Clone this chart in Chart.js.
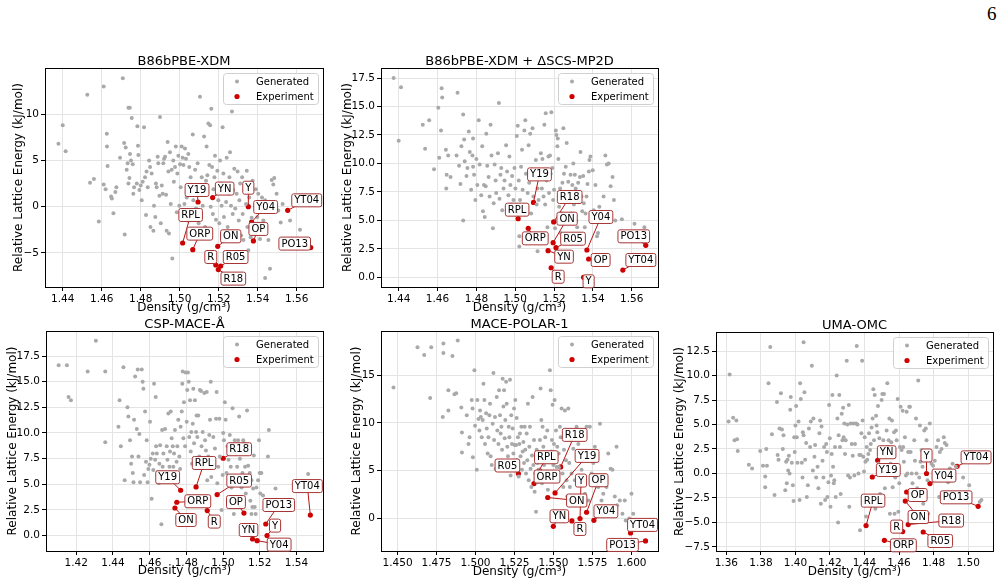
<!DOCTYPE html>
<html>
<head>
<meta charset="utf-8">
<script src="https://cdn.jsdelivr.net/npm/chart.js@4.4.0/dist/chart.umd.min.js"></script>
<style>
  body { margin: 0; background: #fff; width: 1002px; height: 584px; overflow: hidden; position: relative; }
  canvas { position: absolute; }
  #pg { position: absolute; left: 987px; top: 4px; font: 19px "Liberation Serif"; line-height: 19px; color: #000; }
</style>
</head>
<body>
<div id="pg">6</div>
<script>
// experimental forms, same order in every panel
var expNames = ['Y', 'YN', 'Y04', 'Y19', 'YT04', 'R', 'R05', 'R18', 'RPL', 'ORP', 'ON', 'OP', 'PO13'];

// B86bPBE-XDM geometries (densities shared by the first two panels)
var expDensXDM = [1.5352, 1.5169, 1.5369, 1.5094, 1.5554, 1.5185, 1.5210, 1.5198, 1.5015, 1.5067, 1.5195, 1.5378, 1.5672];
var expE_XDM   = [0.0, 0.99, -1.65, 0.51, -0.39, -6.3, -6.41, -6.8, -3.92, -4.64, -4.28, -3.7, -4.42];
var expE_MP2D  = [0.0, 2.34, 2.40, 6.58, 0.64, 0.84, 2.6, 4.86, 5.15, 4.30, 3.04, 1.61, 2.81];

var expDensCSP = [1.524, 1.5161, 1.5186, 1.4769, 1.5476, 1.4914, 1.4968, 1.5001, 1.4853, 1.4748, 1.4738, 1.5114, 1.5233];
var expE_CSP   = [0.0, -0.33, -0.49, 4.42, 2.0, 2.44, 4.0, 7.54, 4.74, 3.25, 2.69, 2.2, 1.13];

var expDensPOL = [1.567, 1.5499, 1.5759, 1.5510, 1.5994, 1.5618, 1.5275, 1.5546, 1.5409, 1.5375, 1.5463, 1.5712, 1.609];
var expE_POL   = [0.0, -0.81, -0.18, 2.68, -1.5, -0.25, 4.71, 5.40, 5.05, 3.66, 2.2, 0.66, -2.34];

var expDensUMA = [1.4759, 1.4476, 1.4779, 1.4445, 1.4936, 1.4621, 1.474, 1.4653, 1.4409, 1.4515, 1.4636, 1.4644, 1.5058];
var expE_UMA   = [0.0, 1.35, -1.03, -0.36, 0.73, -5.93, -5.97, -5.21, -5.32, -6.82, -2.81, -1.89, -3.35];

// generated structures [density, relative energy]
var genXDM = [[1.4378,6.8],[1.44,8.8],[1.4415,6.0],[1.4526,12.1],[1.454,2.6],[1.456,3.0],[1.4585,-1.6],[1.461,13.0],[1.461,2.4],[1.462,1.9],[1.4626,7.9],[1.463,4.4],[1.4627,6.5],[1.4648,1.1],[1.4652,0.9],[1.466,-0.7],[1.467,1.6],[1.4675,2.1],[1.4694,5.3],[1.4708,13.9],[1.4715,6.9],[1.4718,-3.0],[1.4723,6.4],[1.4728,4.0],[1.4733,4.7],[1.4737,10.7],[1.4744,10.7],[1.4742,3.1],[1.4737,2.5],[1.4745,5.7],[1.475,5.0],[1.4754,9.6],[1.4759,4.6],[1.4762,1.4],[1.4766,2.1],[1.478,2.5],[1.4783,8.7],[1.4786,6.6],[1.4788,5.6],[1.4793,1.8],[1.48,2.3],[1.4805,0.7],[1.481,2.7],[1.4817,8.6],[1.4822,3.2],[1.4827,-0.9],[1.483,3.8],[1.4836,2.1],[1.4843,5.0],[1.4848,4.3],[1.485,-2.2],[1.4856,3.6],[1.4865,-2.6],[1.4868,0.1],[1.4875,-1.1],[1.4878,2.5],[1.4882,2.1],[1.4887,5.4],[1.489,4.7],[1.4896,1.2],[1.4899,9.7],[1.4903,-1.8],[1.4908,2.3],[1.4913,1.4],[1.4916,4.7],[1.492,5.2],[1.4925,5.4],[1.493,1.3],[1.4933,-2.6],[1.4938,7.0],[1.4942,3.8],[1.4945,-2.9],[1.495,5.9],[1.4954,0.3],[1.4959,4.0],[1.4962,-5.6],[1.4967,5.0],[1.497,2.7],[1.4976,4.3],[1.498,6.5],[1.4985,-0.6],[1.4988,3.6],[1.4993,5.5],[1.4998,0.1],[1.5002,4.6],[1.5005,2.1],[1.501,6.5],[1.5015,5.3],[1.5019,4.5],[1.5024,0.3],[1.5027,6.3],[1.5032,5.2],[1.5036,1.0],[1.5039,-1.5],[1.5044,5.7],[1.5049,4.3],[1.5053,1.4],[1.5056,3.2],[1.5062,-1.1],[1.5067,7.8],[1.507,0.7],[1.5079,4.0],[1.5084,-0.2],[1.5087,2.1],[1.5092,4.7],[1.5097,-1.8],[1.5104,11.9],[1.5109,1.4],[1.5113,3.2],[1.5118,0.1],[1.5125,7.6],[1.513,-2.2],[1.5135,2.8],[1.5138,6.5],[1.5142,3.4],[1.5147,9.0],[1.5152,4.5],[1.5156,8.8],[1.5159,0.0],[1.5162,10.6],[1.5166,4.3],[1.517,-0.8],[1.5173,1.9],[1.5178,3.2],[1.5181,5.5],[1.5186,-1.4],[1.519,1.4],[1.5193,3.9],[1.5198,0.7],[1.5203,-1.8],[1.5207,5.0],[1.5212,2.5],[1.5215,0.1],[1.522,8.6],[1.5224,3.6],[1.5227,-1.1],[1.5232,2.1],[1.5238,0.5],[1.5241,5.3],[1.5246,-2.2],[1.5251,1.4],[1.5255,3.2],[1.5258,5.9],[1.5263,0.1],[1.5268,10.3],[1.5272,-0.8],[1.5275,1.8],[1.528,4.1],[1.5285,-0.2],[1.5289,-2.8],[1.5292,1.4],[1.5297,3.8],[1.5303,-1.5],[1.5306,0.7],[1.531,2.5],[1.5315,-3.1],[1.532,3.2],[1.5323,-0.8],[1.5327,-3.6],[1.5335,1.9],[1.534,0.3],[1.5344,3.9],[1.5347,-2.2],[1.5352,-4.7],[1.5357,1.0],[1.5364,-3.3],[1.5369,-1.2],[1.5374,2.8],[1.5386,-2.9],[1.5391,1.9],[1.5398,-1.1],[1.5403,1.4],[1.5412,-3.5],[1.5415,0.2],[1.5422,1.0],[1.5429,-1.5],[1.5438,0.7],[1.5446,-0.2],[1.5455,-3.6],[1.5463,-6.7],[1.5472,2.9],[1.548,2.4],[1.5485,3.1],[1.5497,1.4],[1.5506,-0.4],[1.5518,-1.7],[1.5528,0.3],[1.5438,-7.7],[1.5617,-2.5],[1.5566,-1.5]];

var genMP2D = [[1.4374,17.5],[1.4412,16.7],[1.44,12.0],[1.4524,13.4],[1.4536,11.3],[1.4557,13.8],[1.4582,9.5],[1.4604,14.9],[1.4609,10.5],[1.4621,16.6],[1.4624,15.8],[1.4618,12.9],[1.4643,11.2],[1.4647,9.0],[1.4655,10.7],[1.4645,7.8],[1.4667,8.8],[1.4698,10.7],[1.4703,16.2],[1.4711,9.8],[1.4718,8.2],[1.4723,11.5],[1.4732,5.0],[1.4732,14.3],[1.4737,12.1],[1.474,10.2],[1.4749,8.9],[1.4754,9.6],[1.4761,12.8],[1.4766,11.0],[1.4773,7.7],[1.478,10.7],[1.4783,12.2],[1.4783,9.7],[1.4788,9.0],[1.4795,6.8],[1.48,10.4],[1.4805,8.1],[1.4812,13.8],[1.4817,9.9],[1.4825,7.2],[1.483,11.5],[1.4834,5.8],[1.4839,8.1],[1.4843,5.3],[1.4848,8.0],[1.4851,12.6],[1.4856,9.8],[1.4863,8.8],[1.4868,7.1],[1.4873,13.4],[1.4878,10.7],[1.4885,4.3],[1.4889,6.5],[1.4894,9.9],[1.4899,8.5],[1.4902,7.4],[1.4911,10.9],[1.4916,15.3],[1.4919,6.9],[1.4924,9.0],[1.4928,9.6],[1.4933,5.9],[1.494,7.8],[1.4945,8.5],[1.4953,11.6],[1.4958,9.3],[1.4965,7.2],[1.497,10.6],[1.4975,8.1],[1.4979,6.4],[1.4984,8.9],[1.4991,6.8],[1.4996,9.6],[1.5001,7.8],[1.5008,12.4],[1.5013,13.3],[1.5018,8.5],[1.5021,2.7],[1.5025,6.8],[1.503,9.7],[1.5035,11.2],[1.5038,7.7],[1.5047,12.9],[1.5052,13.8],[1.5055,9.1],[1.5059,6.1],[1.5064,7.4],[1.5069,11.6],[1.5072,8.3],[1.5077,12.6],[1.5082,5.6],[1.5089,13.1],[1.5094,7.1],[1.5103,8.8],[1.5106,10.3],[1.511,6.4],[1.5115,7.8],[1.512,6.8],[1.5127,9.4],[1.5132,10.9],[1.5137,7.8],[1.514,10.4],[1.5146,7.1],[1.515,13.4],[1.5154,6.4],[1.5157,14.4],[1.5161,8.5],[1.5166,4.4],[1.5171,10.6],[1.5174,7.4],[1.5179,10.7],[1.5183,9.1],[1.5186,14.5],[1.5191,9.6],[1.5195,6.8],[1.52,7.7],[1.5205,4.3],[1.5209,12.9],[1.5212,12.5],[1.5217,11.5],[1.5219,12.2],[1.5222,10.4],[1.5226,6.2],[1.5231,7.8],[1.5234,3.9],[1.5239,5.6],[1.5243,8.3],[1.5248,13.1],[1.5251,9.1],[1.5256,7.1],[1.526,9.7],[1.5265,11.8],[1.5268,5.0],[1.5273,8.4],[1.5277,6.6],[1.528,7.4],[1.5285,9.0],[1.529,5.6],[1.5294,8.1],[1.5299,10.0],[1.5302,6.4],[1.5307,9.0],[1.5311,7.8],[1.5314,5.0],[1.5319,4.4],[1.5324,8.3],[1.5328,6.6],[1.5333,8.8],[1.5336,11.0],[1.5341,7.1],[1.5345,5.8],[1.535,8.9],[1.5353,6.5],[1.5358,4.4],[1.5362,5.6],[1.5367,7.1],[1.5372,8.2],[1.5379,9.3],[1.5382,10.3],[1.5387,10.6],[1.5392,5.0],[1.5399,9.4],[1.5404,5.9],[1.5413,8.1],[1.5421,3.6],[1.5426,3.9],[1.5433,6.2],[1.5443,5.0],[1.5455,7.1],[1.5464,10.7],[1.5472,9.9],[1.5481,10.0],[1.5491,8.0],[1.5501,8.8],[1.5508,6.8],[1.5515,5.0],[1.5549,5.1],[1.5614,4.7],[1.5665,4.4],[1.5115,2.3],[1.5021,3.6]];

var genCSP = [[1.4104,16.6],[1.4149,16.6],[1.4158,13.5],[1.4171,13.2],[1.4262,16.0],[1.4307,19.0],[1.4358,16.0],[1.4358,9.1],[1.443,10.6],[1.4436,13.2],[1.4443,8.7],[1.4457,16.4],[1.4464,5.4],[1.4479,12.5],[1.4484,11.6],[1.4493,9.3],[1.4499,7.0],[1.4504,7.7],[1.4508,6.1],[1.4512,5.2],[1.4515,11.3],[1.4521,15.5],[1.453,10.4],[1.4535,16.2],[1.4539,7.7],[1.4544,9.9],[1.4548,5.2],[1.4557,16.2],[1.4562,15.0],[1.4566,14.3],[1.457,5.9],[1.4575,12.1],[1.458,7.2],[1.4584,9.3],[1.4589,5.2],[1.4593,6.5],[1.4599,6.9],[1.4602,11.1],[1.4606,7.5],[1.4611,3.6],[1.4617,8.0],[1.462,6.4],[1.4624,14.8],[1.463,7.4],[1.4633,13.5],[1.4635,8.7],[1.4639,8.0],[1.4644,6.2],[1.465,5.1],[1.4653,7.0],[1.4657,8.8],[1.4664,1.1],[1.4668,10.3],[1.4671,6.7],[1.4675,8.0],[1.4679,5.4],[1.4684,10.4],[1.4689,6.1],[1.4693,8.7],[1.4697,7.4],[1.4702,11.9],[1.4708,6.7],[1.4711,8.2],[1.4715,12.1],[1.472,9.5],[1.4726,8.7],[1.4729,6.7],[1.4733,8.0],[1.4738,10.3],[1.4744,6.1],[1.4747,7.2],[1.4751,8.7],[1.4756,11.3],[1.4762,7.7],[1.4766,6.5],[1.4769,10.6],[1.4775,12.1],[1.4778,14.8],[1.478,16.0],[1.4784,9.5],[1.4787,13.0],[1.4793,8.7],[1.4796,15.9],[1.4802,11.1],[1.4805,14.2],[1.4809,15.9],[1.4813,15.0],[1.4816,9.6],[1.482,13.2],[1.4824,8.2],[1.4827,10.1],[1.4831,7.0],[1.4835,10.9],[1.4838,14.3],[1.4842,9.0],[1.4847,13.2],[1.4853,10.1],[1.4856,11.7],[1.486,9.6],[1.4865,11.7],[1.4871,7.7],[1.4874,14.2],[1.488,14.1],[1.4883,8.7],[1.4889,10.1],[1.4892,6.7],[1.4898,13.9],[1.4902,9.3],[1.4907,8.3],[1.4911,14.0],[1.4914,5.4],[1.492,7.7],[1.4925,9.8],[1.4929,11.3],[1.4933,15.0],[1.4936,5.7],[1.494,7.4],[1.4947,9.6],[1.4951,6.9],[1.4956,8.5],[1.4962,11.4],[1.4965,14.0],[1.4969,5.1],[1.4974,6.7],[1.498,11.4],[1.4983,7.7],[1.4992,2.5],[1.4998,5.9],[1.5001,10.0],[1.5005,9.3],[1.501,13.0],[1.5014,11.3],[1.5019,6.1],[1.5024,8.7],[1.503,7.4],[1.5037,9.8],[1.5042,6.7],[1.5046,4.7],[1.5052,12.4],[1.5056,5.2],[1.5059,2.1],[1.5064,9.3],[1.507,8.0],[1.5074,3.4],[1.5077,6.7],[1.5082,9.3],[1.5088,11.6],[1.5092,7.5],[1.5095,2.8],[1.5101,4.7],[1.5106,6.1],[1.511,9.3],[1.5115,9.0],[1.512,6.7],[1.5124,4.1],[1.5128,8.2],[1.5131,12.2],[1.5137,6.8],[1.5142,8.7],[1.5146,6.1],[1.5149,3.4],[1.5155,5.4],[1.516,2.8],[1.5164,4.6],[1.5168,7.8],[1.5173,2.8],[1.5178,2.1],[1.5182,4.7],[1.5191,5.4],[1.5196,9.3],[1.52,6.1],[1.5203,4.1],[1.5209,6.1],[1.5218,3.9],[1.5236,2.8],[1.5245,7.7],[1.525,10.3],[1.5257,2.5],[1.5268,3.4],[1.5286,4.6],[1.5464,6.0],[1.5155,2.1]];

var genPOL = [[1.4474,13.7],[1.4628,17.9],[1.4671,17.1],[1.4716,17.9],[1.4709,12.6],[1.4794,18.3],[1.4794,17.3],[1.4852,17.0],[1.4886,18.6],[1.4865,13.0],[1.4876,13.1],[1.4826,13.4],[1.479,10.6],[1.4826,11.3],[1.4909,11.6],[1.4913,9.0],[1.4913,6.9],[1.4944,10.8],[1.4955,7.8],[1.4962,8.5],[1.4976,12.4],[1.4981,11.5],[1.4983,6.4],[1.4993,15.5],[1.4997,9.7],[1.5008,5.1],[1.5012,12.4],[1.5019,10.4],[1.5025,9.2],[1.5029,11.3],[1.5034,10.6],[1.504,8.5],[1.5046,10.3],[1.5051,14.1],[1.5057,12.4],[1.5061,7.8],[1.5068,11.0],[1.5072,9.4],[1.5078,6.8],[1.5083,8.5],[1.5089,10.8],[1.5093,12.0],[1.5097,6.5],[1.5104,5.6],[1.511,9.9],[1.5115,15.2],[1.5119,8.2],[1.5125,10.6],[1.5129,5.2],[1.5136,12.7],[1.514,9.2],[1.5147,7.8],[1.5151,13.4],[1.5157,10.8],[1.5161,8.9],[1.5166,9.6],[1.517,7.2],[1.5174,14.6],[1.5179,11.7],[1.5183,13.4],[1.5187,8.4],[1.5191,10.3],[1.5196,14.3],[1.52,12.0],[1.5204,7.5],[1.5208,6.5],[1.5213,9.6],[1.5217,8.5],[1.5221,14.5],[1.5225,4.5],[1.5229,10.8],[1.5234,7.8],[1.5238,9.4],[1.5243,6.8],[1.5247,11.5],[1.5251,7.7],[1.5255,12.4],[1.526,7.7],[1.5264,10.5],[1.5268,6.1],[1.5272,8.5],[1.5277,4.4],[1.5281,7.8],[1.5285,8.9],[1.5289,6.5],[1.5294,9.6],[1.5298,5.1],[1.5302,7.0],[1.5307,8.0],[1.5311,5.8],[1.5315,9.6],[1.5319,7.2],[1.5324,4.7],[1.5328,8.9],[1.5332,6.1],[1.5336,12.0],[1.5341,4.0],[1.5345,7.5],[1.5349,9.6],[1.5353,5.2],[1.5358,3.3],[1.5362,6.6],[1.5366,12.7],[1.5371,5.6],[1.5375,8.2],[1.5379,2.8],[1.5383,4.7],[1.5388,0.7],[1.5392,7.2],[1.5396,5.8],[1.54,3.8],[1.5405,6.5],[1.5409,5.1],[1.5413,8.2],[1.5417,13.6],[1.5422,10.3],[1.5426,3.7],[1.543,9.6],[1.5435,7.5],[1.5439,5.6],[1.5443,4.7],[1.5447,8.5],[1.5452,6.6],[1.5456,4.7],[1.546,9.2],[1.5464,3.0],[1.5469,6.1],[1.5473,4.7],[1.5477,15.5],[1.5482,13.4],[1.5486,7.0],[1.549,8.2],[1.5494,11.9],[1.5499,5.6],[1.5503,7.8],[1.5507,12.4],[1.5511,6.5],[1.5516,9.2],[1.552,5.4],[1.5524,7.5],[1.5528,4.0],[1.5533,6.8],[1.5537,5.4],[1.5541,9.6],[1.5546,8.5],[1.5552,11.5],[1.5558,4.7],[1.5563,3.3],[1.5567,7.2],[1.5573,11.3],[1.558,6.1],[1.5584,4.0],[1.5588,2.3],[1.5595,11.5],[1.5601,5.8],[1.5605,3.3],[1.561,8.2],[1.5616,4.7],[1.5622,2.3],[1.5627,7.3],[1.5637,4.0],[1.5644,1.9],[1.5648,9.6],[1.5659,7.8],[1.567,6.8],[1.568,5.1],[1.5691,4.0],[1.5702,2.6],[1.5712,9.6],[1.5723,1.9],[1.5733,9.6],[1.5744,4.7],[1.5755,5.8],[1.5765,7.5],[1.5776,6.5],[1.5787,3.3],[1.5798,9.9],[1.5808,1.9],[1.5819,2.6],[1.584,3.3],[1.5851,6.8],[1.5866,5.2],[1.5878,5.1],[1.5893,2.3],[1.5904,7.5],[1.5908,1.4],[1.5925,1.9],[1.5942,0.5],[1.5957,1.9],[1.5963,-0.2],[1.5985,0.0],[1.6,2.6],[1.6011,0.5],[1.6021,-0.7]];

var genUMA = [[1.3619,10.1],[1.3613,5.3],[1.3639,5.7],[1.3647,3.4],[1.3658,5.4],[1.3662,3.5],[1.3666,2.3],[1.373,0.9],[1.3749,0.5],[1.3796,2.3],[1.3812,0.8],[1.3825,-0.3],[1.3825,-1.4],[1.3831,2.5],[1.3835,0.8],[1.3844,9.2],[1.3854,12.9],[1.3864,4.0],[1.3879,-2.2],[1.3893,7.3],[1.3897,1.9],[1.3902,1.4],[1.3908,4.6],[1.3916,8.2],[1.3922,4.5],[1.3927,2.5],[1.3931,3.9],[1.3941,-1.7],[1.3946,1.2],[1.395,-1.0],[1.3954,1.4],[1.3958,0.3],[1.3962,1.8],[1.3966,0.0],[1.397,6.5],[1.3973,7.8],[1.3979,1.1],[1.3985,-1.2],[1.3989,-2.8],[1.3993,3.7],[1.3996,2.2],[1.4,4.9],[1.4004,6.9],[1.4008,3.7],[1.4012,1.1],[1.4018,5.3],[1.4024,-2.7],[1.4027,9.2],[1.4031,7.6],[1.4037,1.1],[1.4041,-0.4],[1.4043,4.2],[1.4047,3.9],[1.4047,13.4],[1.4052,8.3],[1.4056,1.4],[1.4062,3.1],[1.4066,-2.4],[1.4072,-1.2],[1.4078,4.6],[1.4085,2.7],[1.4089,5.3],[1.4095,11.0],[1.4101,0.3],[1.4104,5.6],[1.411,1.7],[1.4114,2.9],[1.412,-0.4],[1.4128,0.7],[1.4133,-1.5],[1.4139,4.1],[1.4143,5.4],[1.4147,-3.1],[1.4151,4.8],[1.4157,1.3],[1.4162,-0.4],[1.4166,2.7],[1.4172,-2.7],[1.4178,3.0],[1.4182,2.2],[1.4185,-2.4],[1.4191,-0.9],[1.4195,7.0],[1.4199,3.6],[1.4203,-3.4],[1.4206,-0.2],[1.421,2.0],[1.4214,8.0],[1.4218,0.7],[1.4222,-1.0],[1.4225,-0.7],[1.4229,2.7],[1.4233,-2.4],[1.4239,10.0],[1.4243,5.6],[1.4247,-5.0],[1.425,3.9],[1.4254,8.0],[1.4258,2.7],[1.4262,-2.1],[1.4268,6.1],[1.4272,3.4],[1.4276,6.7],[1.4279,3.7],[1.4283,5.1],[1.4287,2.0],[1.4291,3.4],[1.4297,11.5],[1.4301,5.0],[1.4305,-0.2],[1.4309,7.0],[1.4312,-3.4],[1.4316,-0.4],[1.432,5.1],[1.4326,3.0],[1.4332,1.8],[1.4336,5.1],[1.4341,-0.2],[1.4345,3.0],[1.4351,5.1],[1.4355,13.0],[1.4359,5.0],[1.4365,0.0],[1.437,1.9],[1.4374,-5.8],[1.4378,1.9],[1.4382,4.1],[1.4386,11.5],[1.4389,5.4],[1.4393,1.7],[1.4397,0.2],[1.4401,3.7],[1.4405,1.2],[1.4409,-4.4],[1.4413,2.7],[1.4416,1.4],[1.4422,2.0],[1.4426,4.1],[1.4432,2.4],[1.4436,3.0],[1.4441,4.7],[1.4447,5.6],[1.4451,8.6],[1.4455,3.4],[1.4459,8.0],[1.4463,-3.6],[1.4467,5.9],[1.447,4.9],[1.4474,4.2],[1.4478,6.9],[1.4482,1.0],[1.4486,3.6],[1.449,-2.1],[1.4493,-2.7],[1.4499,7.5],[1.4503,8.1],[1.4509,3.4],[1.4513,8.1],[1.4518,-1.5],[1.4524,1.7],[1.4528,4.4],[1.4532,9.2],[1.4536,2.7],[1.454,3.4],[1.4544,5.6],[1.4547,-4.1],[1.4551,1.0],[1.4555,3.2],[1.4559,5.4],[1.4563,-1.4],[1.4567,1.7],[1.4571,4.2],[1.4574,-4.1],[1.4578,-0.4],[1.4582,4.4],[1.4586,3.4],[1.4592,7.6],[1.4596,-3.9],[1.4601,-1.0],[1.4605,2.7],[1.4609,6.8],[1.4615,2.4],[1.4621,6.4],[1.4624,2.7],[1.4628,1.2],[1.4634,3.7],[1.464,-0.2],[1.4644,6.3],[1.4648,0.0],[1.4653,2.2],[1.4659,6.8],[1.4663,6.8],[1.4667,2.2],[1.4673,0.0],[1.4678,-1.0],[1.4682,-2.7],[1.4688,3.4],[1.4692,1.3],[1.4698,5.6],[1.4701,0.0],[1.4705,-1.5],[1.4711,9.5],[1.4717,-0.4],[1.4721,4.9],[1.4724,1.2],[1.473,2.4],[1.4736,0.7],[1.474,-3.1],[1.4746,4.4],[1.4751,1.7],[1.4755,4.6],[1.4759,3.4],[1.4765,-0.7],[1.4769,-4.1],[1.4778,5.1],[1.4788,1.0],[1.4797,0.8],[1.4807,1.3],[1.4817,2.7],[1.4826,3.4],[1.4832,-2.4],[1.4836,2.2],[1.4846,2.5],[1.4851,0.0],[1.4859,3.7],[1.4865,3.1],[1.4875,2.9],[1.4884,-0.9],[1.4894,0.5],[1.491,1.0],[1.4932,0.7],[1.4971,-0.4],[1.5006,-1.2],[1.5067,-2.9],[1.5077,-2.7]];

// tick values and labels
var xTicksA = [1.44, 1.46, 1.48, 1.50, 1.52, 1.54, 1.56];
var xLabelsA = ['1.44', '1.46', '1.48', '1.50', '1.52', '1.54', '1.56'];
var xTicksCSP = [1.42, 1.44, 1.46, 1.48, 1.50, 1.52, 1.54];
var xLabelsCSP = ['1.42', '1.44', '1.46', '1.48', '1.50', '1.52', '1.54'];
var xTicksPOL = [1.45, 1.475, 1.5, 1.525, 1.55, 1.575, 1.6];
var xLabelsPOL = ['1.450', '1.475', '1.500', '1.525', '1.550', '1.575', '1.600'];
var xTicksUMA = [1.36, 1.38, 1.40, 1.42, 1.44, 1.46, 1.48, 1.50];
var xLabelsUMA = ['1.36', '1.38', '1.40', '1.42', '1.44', '1.46', '1.48', '1.50'];
var yTicksXDM = [-5, 0, 5, 10];
var yLabelsXDM = ['\u22125', '0', '5', '10'];
var yTicksB = [0, 2.5, 5, 7.5, 10, 12.5, 15, 17.5];
var yLabelsB = ['0.0', '2.5', '5.0', '7.5', '10.0', '12.5', '15.0', '17.5'];
var yTicksPOL = [0, 5, 10, 15];
var yLabelsPOL = ['0', '5', '10', '15'];
var yTicksUMA = [-7.5, -5, -2.5, 0, 2.5, 5, 7.5, 10, 12.5];
var yLabelsUMA = ['\u22127.5', '\u22125.0', '\u22122.5', '0.0', '2.5', '5.0', '7.5', '10.0', '12.5'];

// label box offsets from their point, in pixels (same order as expNames)
var offXDM  = [[0,-19],[12,-9],[14,-15],[-1,-12],[19,-10],[-5,-8],[15,-9],[15,9],[8,-28],[7,-16],[13,-10],[5,-12],[-16,-4]];
var offMP2D = [[5,4],[16,6],[14,-33],[6,-28],[18,-10],[7,9],[17,-9],[16,-25],[-1,-9],[7,10],[14,-24],[12,1],[-12,-9]];
var offCSP  = [[8,-10],[-4,-9],[22,4],[-13,-13],[-3,-29],[7,11],[22,-14],[16,-9],[8,-24],[21,-1],[11,12],[-8,-11],[13,-19]];
var offPOL  = [[1,-38],[6,-10],[12,-9],[32,-37],[12,-8],[8,8],[-11,-8],[14,-32],[7,-13],[13,-7],[29,3],[12,-32],[-23,4]];
var offUMA  = [[0,-18],[9,-8],[14,-8],[16,-7],[19,-9],[-6,-5],[17,9],[43,-4],[7,-25],[19,5],[13,16],[11,3],[-22,-9]];

var GRAY = '#a9a9a9';
var RED = '#d00000';
var GRID = '#e4e4e4';
var FONT = 'DejaVu Sans';
Chart.defaults.font.family = FONT;
Chart.defaults.color = '#000';

var panels = [
  {title: 'B86bPBE-XDM', gen: genXDM, ex: expDensXDM, ey: expE_XDM, off: offXDM,
   xmin: 1.4309, xmax: 1.5735, ymin: -8.68, ymax: 15.0,
   xt: xTicksA, xl: xLabelsA, yt: yTicksXDM, yl: yLabelsXDM,
   L: 45, T: 68, R: 323, B: 287, W: 33, H: 28},
  {title: 'B86bPBE-XDM + \u0394SCS-MP2D', gen: genMP2D, ex: expDensXDM, ey: expE_MP2D, off: offMP2D,
   xmin: 1.4309, xmax: 1.5735, ymin: -0.85, ymax: 18.38,
   xt: xTicksA, xl: xLabelsA, yt: yTicksB, yl: yLabelsB,
   L: 381, T: 68, R: 658, B: 287, W: 40, H: 28},
  {title: 'CSP-MACE-\u00c5', gen: genCSP, ex: expDensCSP, ey: expE_CSP, off: offCSP,
   xmin: 1.4035, xmax: 1.5545, ymin: -1.5, ymax: 19.94,
   xt: xTicksCSP, xl: xLabelsCSP, yt: yTicksB, yl: yLabelsB,
   L: 46, T: 331, R: 323, B: 551, W: 40, H: 27},
  {title: 'MACE-POLAR-1', gen: genPOL, ex: expDensPOL, ey: expE_POL, off: offPOL,
   xmin: 1.4394, xmax: 1.617, ymin: -3.39, ymax: 19.6,
   xt: xTicksPOL, xl: xLabelsPOL, yt: yTicksPOL, yl: yLabelsPOL,
   L: 381, T: 331, R: 658, B: 551, W: 31, H: 28},
  {title: 'UMA-OMC', gen: genUMA, ex: expDensUMA, ey: expE_UMA, off: offUMA,
   xmin: 1.354, xmax: 1.5144, ymin: -7.91, ymax: 14.44,
   xt: xTicksUMA, xl: xLabelsUMA, yt: yTicksUMA, yl: yLabelsUMA,
   L: 716, T: 332, R: 993, B: 551, W: 43, H: 28}
];

var TOP = 22, RIGHT = 8;

function pix(v) { return Math.round(v - 0.5) + 0.5; }

function drawExtras(chart, p) {
  var ctx = chart.ctx, a = chart.chartArea;
  var xs = chart.scales.x, ys = chart.scales.y;
  ctx.save();
  // full frame
  ctx.strokeStyle = '#000';
  ctx.lineWidth = 1;
  ctx.strokeRect(pix(a.left), pix(a.top), pix(a.right) - pix(a.left), pix(a.bottom) - pix(a.top));

  // annotations
  ctx.font = '10px "' + FONT + '"';
  ctx.textAlign = 'center';
  ctx.textBaseline = 'middle';
  expNames.forEach(function(name, i) {
    var px = xs.getPixelForValue(p.ex[i]);
    var py = ys.getPixelForValue(p.ey[i]);
    var cx = px + p.off[i][0], cy = py + p.off[i][1];
    var w = ctx.measureText(name).width + 5, h = 13;
    ctx.strokeStyle = '#b81414';
    ctx.lineWidth = 1;
    ctx.beginPath(); ctx.moveTo(px, py); ctx.lineTo(cx, cy); ctx.stroke();
    ctx.beginPath();
    ctx.roundRect(cx - w / 2, cy - h / 2, w, h, 2);
    ctx.fillStyle = 'rgba(255,255,255,0.92)';
    ctx.fill();
    ctx.strokeStyle = '#a83535';
    ctx.stroke();
    ctx.fillStyle = '#000';
    ctx.fillText(name, cx, cy + 0.5);
  });

  // legend
  var bw = 95, bh = 31;
  var bx = a.right - 5 - bw, by = a.top + 5;
  ctx.beginPath();
  ctx.roundRect(bx + 0.5, by + 0.5, bw, bh, 3);
  ctx.fillStyle = 'rgba(255,255,255,0.8)';
  ctx.fill();
  ctx.strokeStyle = '#d0d0d0';
  ctx.stroke();
  ctx.font = '10px "' + FONT + '"';
  ctx.textAlign = 'left';
  [['Generated', GRAY, 2.0], ['Experiment', RED, 2.6]].forEach(function(it, k) {
    var ry = by + 8.5 + k * 15;
    ctx.beginPath(); ctx.arc(bx + 14, ry, it[2], 0, Math.PI * 2);
    ctx.fillStyle = it[1]; ctx.fill();
    ctx.fillStyle = '#000';
    ctx.fillText(it[0], bx + 33, ry + 0.5);
  });

  // title
  ctx.font = '13px "' + FONT + '"';
  ctx.textAlign = 'center';
  ctx.textBaseline = 'alphabetic';
  ctx.fillText(p.title, (a.left + a.right) / 2, a.top - 3.5);
  ctx.restore();
}

function makePanel(p) {
  var cv = document.createElement('canvas');
  var w = p.W + (p.R - p.L) + RIGHT, h = TOP + (p.B - p.T) + p.H;
  cv.width = w; cv.height = h;
  cv.style.left = (p.L - p.W) + 'px';
  cv.style.top = (p.T - TOP) + 'px';
  cv.style.width = w + 'px'; cv.style.height = h + 'px';
  document.body.appendChild(cv);

  var axisFont = {family: FONT, size: 12};
  var tickFont = {family: FONT, size: 10.5};

  new Chart(cv.getContext('2d'), {
    type: 'scatter',
    data: {
      datasets: [{
        label: 'Generated',
        data: p.gen.map(function(d) { return {x: d[0], y: d[1]}; }),
        backgroundColor: GRAY,
        borderWidth: 0,
        pointRadius: 2.0
      }, {
        label: 'Experiment',
        data: p.ex.map(function(x, i) { return {x: x, y: p.ey[i]}; }),
        backgroundColor: RED,
        borderWidth: 0,
        pointRadius: 2.6
      }]
    },
    options: {
      responsive: false,
      animation: false,
      devicePixelRatio: 1,
      layout: {padding: {top: TOP, right: RIGHT, left: 0, bottom: 0}},
      plugins: {legend: {display: false}, tooltip: {enabled: false}},
      scales: {
        x: {
          type: 'linear', min: p.xmin, max: p.xmax,
          afterBuildTicks: function(s) { s.ticks = p.xt.map(function(v) { return {value: v}; }); },
          afterFit: function(s) { s.height = p.H; },
          ticks: {font: tickFont, color: '#000', padding: 2, maxRotation: 0, autoSkip: false,
                  callback: function(v, i) { return p.xl[i]; }},
          grid: {color: GRID, tickColor: '#000', tickLength: 4, lineWidth: 1},
          border: {color: '#000', width: 1},
          title: {display: true, text: 'Density (g/cm\u00b3)', font: axisFont, color: '#000', padding: 0}
        },
        y: {
          type: 'linear', min: p.ymin, max: p.ymax,
          afterBuildTicks: function(s) { s.ticks = p.yt.map(function(v) { return {value: v}; }); },
          afterFit: function(s) { s.width = p.W; },
          ticks: {font: tickFont, color: '#000', padding: 2, autoSkip: false,
                  callback: function(v, i) { return p.yl[i]; }},
          grid: {color: GRID, tickColor: '#000', tickLength: 4, lineWidth: 1},
          border: {color: '#000', width: 1},
          title: {display: true, text: 'Relative Lattice Energy (kJ/mol)', font: axisFont, color: '#000', padding: 0}
        }
      }
    },
    plugins: [{
      id: 'extras',
      afterDatasetsDraw: function(chart) { drawExtras(chart, p); }
    }]
  });
}

panels.forEach(makePanel);
</script>
</body>
</html>
